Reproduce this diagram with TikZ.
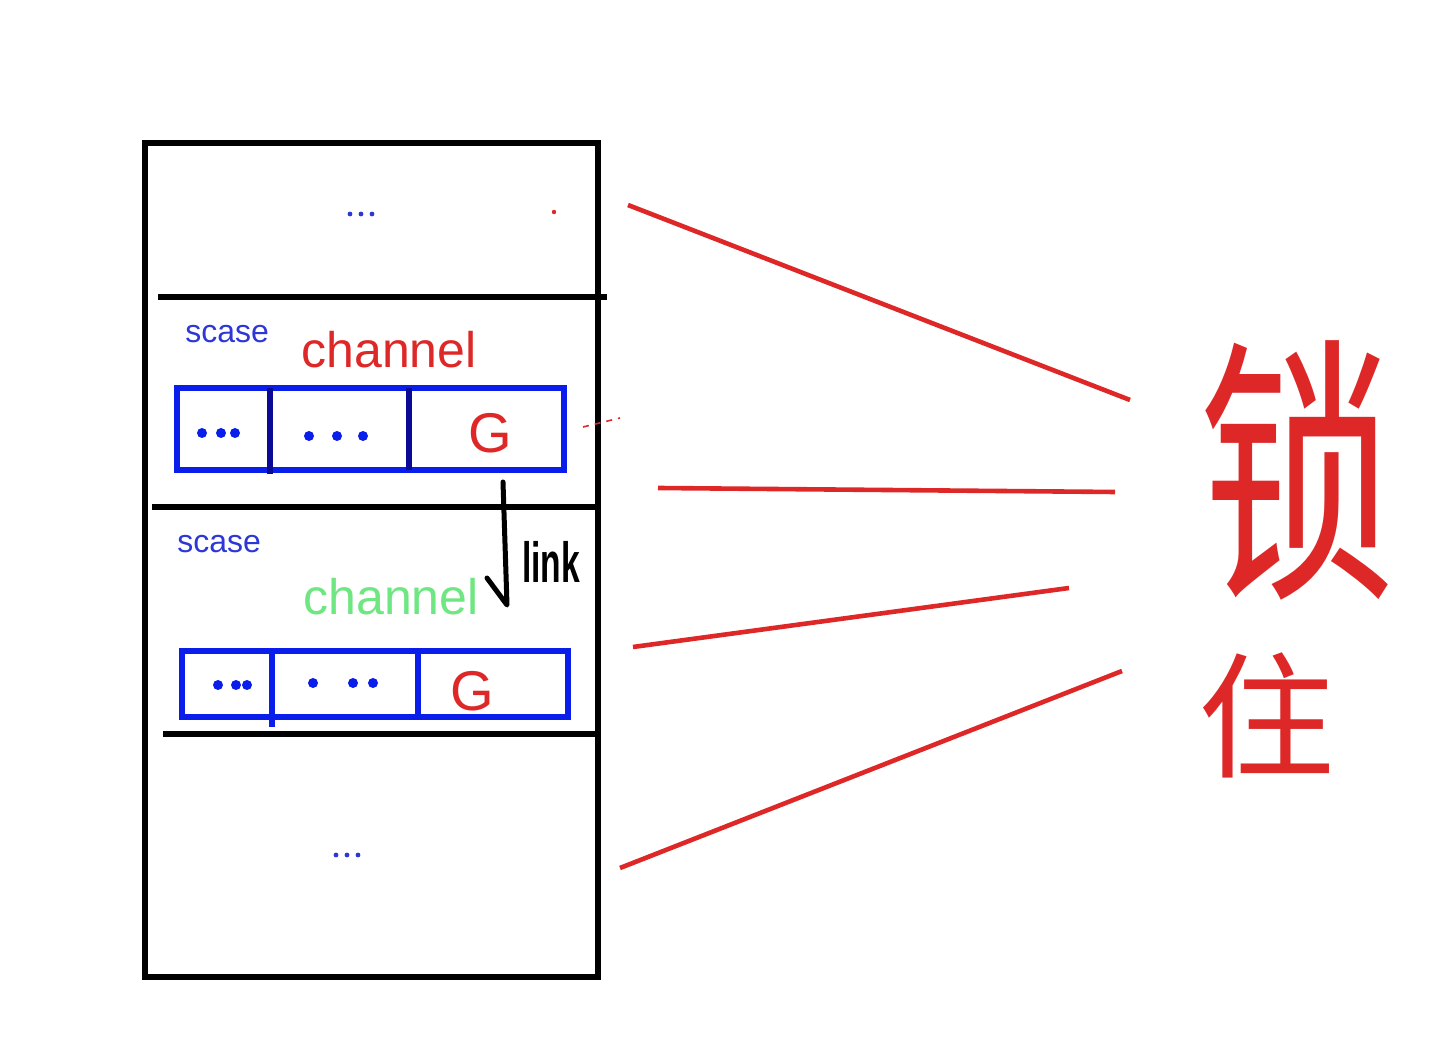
\documentclass[tikz,border=0pt]{standalone}
\usepackage{fontspec}
\setmainfont{Liberation Sans}
\newfontfamily\cjk{Noto Sans CJK SC}
\definecolor{myred}{RGB}{222,40,40}
\definecolor{boxblue}{RGB}{10,30,235}
\definecolor{navy}{RGB}{10,10,150}
\definecolor{lblue}{RGB}{45,55,215}
\definecolor{lgreen}{RGB}{110,230,130}
\begin{document}
\begin{tikzpicture}[x=0.5pt,y=-0.5pt,
  blk/.style={line width=2.8pt, black},
  chan/.style={draw=boxblue, line width=3pt, inner sep=0pt},
  divider/.style={line width=2.8pt},
  bdot/.style={fill=boxblue, draw=none},
  lbl/.style={inner sep=0pt, anchor=base west},
  redline/.style={myred, line width=2.3pt},
  gmark/.style={inner sep=0pt, text=myred, font=\fontsize{28}{32}\selectfont}]
\useasboundingbox[fill=white] (0,0) rectangle (1448,1042);

% outer stack
\node[draw, blk, minimum width=226.5pt, minimum height=417pt, inner sep=0pt] (stack) at (371.5,560) {};

% separators
\coordinate (s1a) at (158,297); \coordinate (s1b) at (607,297);
\coordinate (s2a) at (152,507); \coordinate (s2b) at (598,507);
\coordinate (s3a) at (163,734); \coordinate (s3b) at (595,734);
\draw[blk] (s1a) -- (s1b);
\draw[blk] (s2a) -- (s2b);
\draw[blk] (s3a) -- (s3b);

% top and bottom ellipses
\foreach \x in {350,361,372} \fill[lblue] (\x,214) circle (1.2pt);
\fill[myred] (554,212) circle (1.1pt);
\foreach \x in {336,347,358} \fill[lblue] (\x,855) circle (1.2pt);

% first scase
\node[lbl, text=lblue, font=\fontsize{16}{19}\selectfont] (sc1) at (185,343) {scase};
\node[lbl, text=myred, font=\fontsize{25}{30}\selectfont] (ch1) at (301,368) {channel};
\node[chan, minimum width=193.5pt, minimum height=41pt] (box1) at (370.5,429) {};
\draw[divider, navy] (270,388) -- (270,474);
\draw[divider, navy] (409,388) -- (409,470);
\foreach \x in {202,221,235} \fill[bdot] (\x,433) circle (2.5pt);
\foreach \x in {309,337,363} \fill[bdot] (\x,436) circle (2.5pt);
\node[gmark] (g1) at (490,433) {G};

% second scase
\node[lbl, text=lblue, font=\fontsize{16}{19}\selectfont] (sc2) at (177,553) {scase};
\node[lbl, text=lgreen, font=\fontsize{25}{30}\selectfont] (ch2) at (303,615) {channel};
\node[chan, minimum width=193pt, minimum height=33pt] (box2) at (375,684) {};
\draw[divider, boxblue] (272,651) -- (272,727);
\draw[divider, boxblue] (418,651) -- (418,717);
\foreach \x in {218,236,247} \fill[bdot] (\x,685) circle (2.5pt);
\foreach \x in {313,353,373} \fill[bdot] (\x,683) circle (2.5pt);
\node[gmark] (g2) at (472,691) {G};

% link arrow
\coordinate (lkA) at (503,482);
\coordinate (lkB) at (507,605);
\coordinate (lkC) at (487,578);
\draw[line width=2.5pt, line cap=round, line join=round] (lkA) -- (lkB) -- (lkC);
\node[inner sep=0pt, font=\bfseries\fontsize{21}{24}\selectfont] (link) at (551,562) {\scalebox{0.8}[1.35]{link}};

% small red mark
\draw[myred, line width=0.8pt, dash pattern=on 3pt off 3pt] (583,427) -- (620,418);

% lock label
\node[inner sep=0pt, text=myred, font=\cjk\fontsize{140}{150}\selectfont] (suo) at (1297,470) {\scalebox{0.7}[1]{锁}};
\node[inner sep=0pt, text=myred, font=\cjk\fontsize{68}{72}\selectfont] (zhu) at (1266,715) {住};

% red lines
\coordinate (r1a) at (628,205); \coordinate (r1b) at (1130,400);
\coordinate (r2a) at (658,488); \coordinate (r2b) at (1115,492);
\coordinate (r3a) at (633,647); \coordinate (r3b) at (1069,588);
\coordinate (r4a) at (620,868); \coordinate (r4b) at (1122,671);
\draw[redline] (r1a) -- (r1b);
\draw[redline] (r2a) -- (r2b);
\draw[redline] (r3a) -- (r3b);
\draw[redline] (r4a) -- (r4b);
\end{tikzpicture}
\end{document}
